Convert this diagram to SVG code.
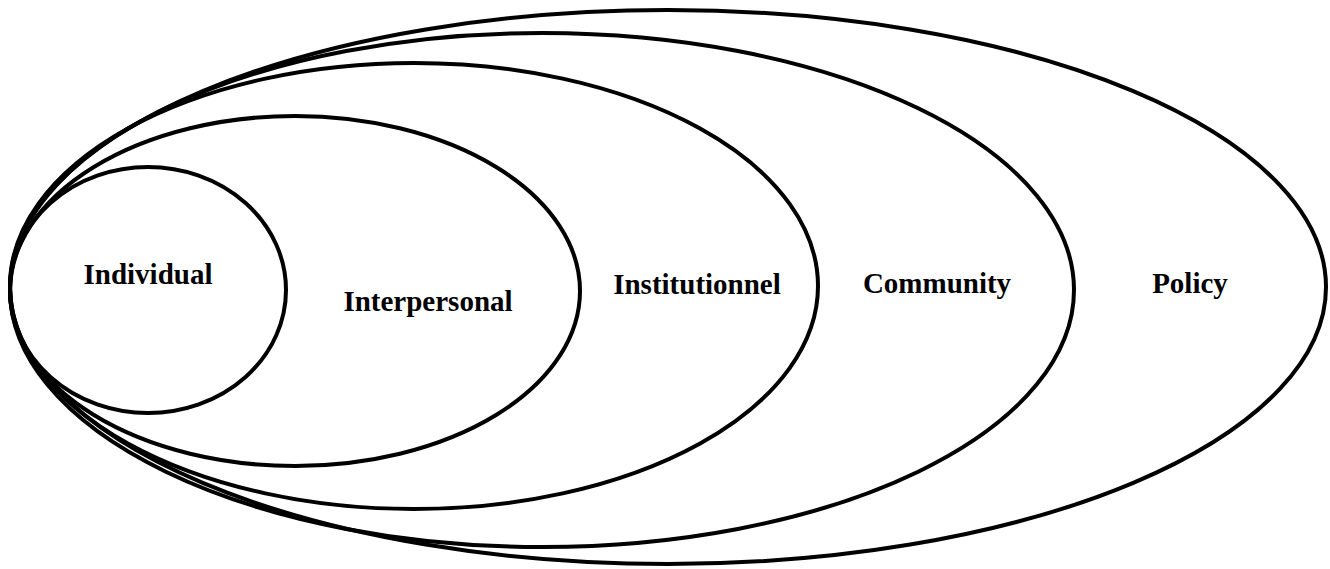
<svg xmlns="http://www.w3.org/2000/svg" width="1330" height="569" viewBox="0 0 1330 569">
<style>
.ring{fill:none;stroke:#000;stroke-width:4}
.lbl{font-family:"Liberation Serif","Times New Roman",serif;font-weight:bold;font-size:29px;fill:#000;text-anchor:middle}
</style>
<rect width="1330" height="569" fill="#fff"/>
<g id="policy"><ellipse class="ring" cx="668" cy="287" rx="658" ry="277"/><text class="lbl" x="1190" y="293">Policy</text></g>
<g id="community"><ellipse class="ring" cx="542" cy="290" rx="532" ry="257"/><text class="lbl" x="937" y="293">Community</text></g>
<g id="institutionnel"><ellipse class="ring" cx="414" cy="286" rx="404" ry="223"/><text class="lbl" x="697" y="294">Institutionnel</text></g>
<g id="interpersonal"><ellipse class="ring" cx="295" cy="291" rx="285" ry="175"/><text class="lbl" x="428" y="311">Interpersonal</text></g>
<g id="individual"><ellipse class="ring" cx="148" cy="290" rx="138" ry="123"/><text class="lbl" x="148" y="284">Individual</text></g>
<g id="connectors"></g>
</svg>
